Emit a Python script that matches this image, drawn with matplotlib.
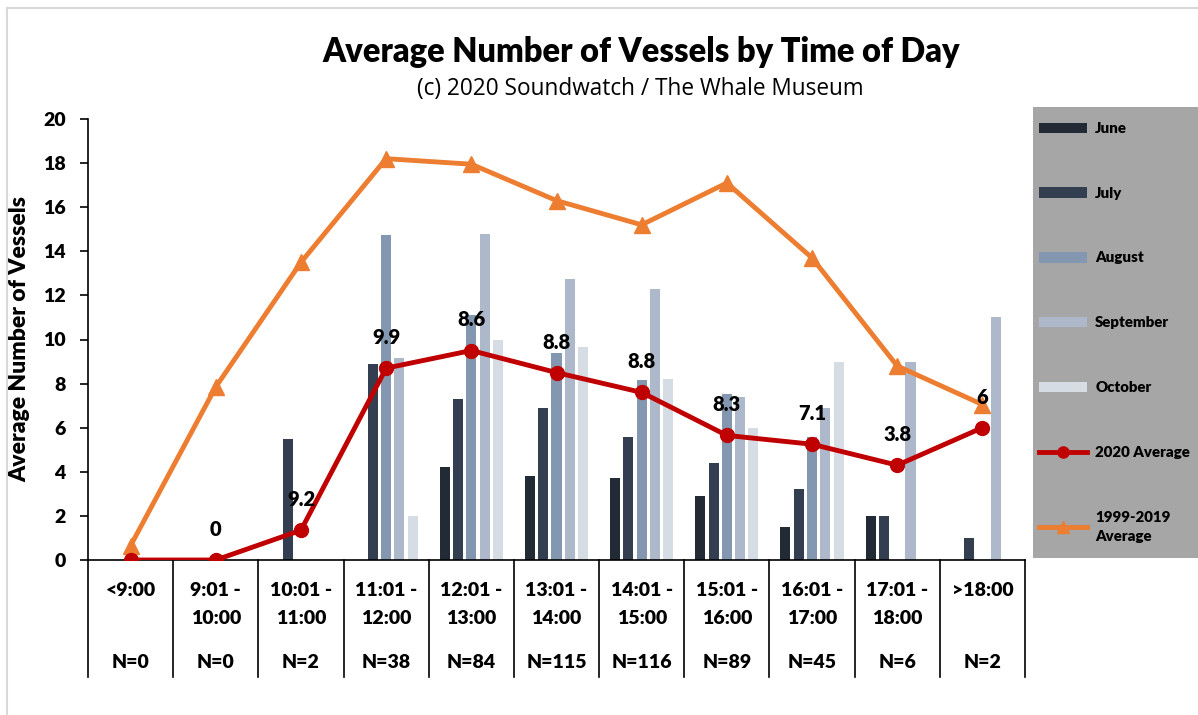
import matplotlib.pyplot as plt
import numpy as np
from matplotlib.lines import Line2D
from matplotlib.patches import Patch, Rectangle

plt.rcParams['font.family'] = ['Lato', 'DejaVu Sans']
BOLD = 'heavy'

# Data
times = ['<9:00', '9:01 -\n10:00', '10:01 -\n11:00', '11:01 -\n12:00', '12:01 -\n13:00',
         '13:01 -\n14:00', '14:01 -\n15:00', '15:01 -\n16:00', '16:01 -\n17:00',
         '17:01 -\n18:00', '>18:00']
n_labels = ['N=0', 'N=0', 'N=2', 'N=38', 'N=84', 'N=115', 'N=116', 'N=89', 'N=45', 'N=6', 'N=2']

june = [0, 0, 0, 0, 4.2, 3.8, 3.7, 2.9, 1.5, 2.0, 0]
july = [0, 0, 5.5, 8.9, 7.3, 6.9, 5.6, 4.4, 3.2, 2.0, 1.0]
august = [0, 0, 0, 14.75, 11.1, 9.4, 8.15, 7.55, 5.6, 0, 0]
september = [0, 0, 0, 9.15, 14.8, 12.75, 12.3, 7.4, 6.9, 9.0, 11.0]
october = [0, 0, 0, 2.0, 10.0, 9.65, 8.2, 6.0, 9.0, 0, 0]

avg_2020 = [0, 0, 1.35, 8.7, 9.5, 8.5, 7.6, 5.65, 5.25, 4.3, 6.0]
avg_2020_labels = ['', '0', '9.2', '9.9', '8.6', '8.8', '8.8', '8.3', '7.1', '3.8', '6']
avg_1999_2019 = [0.65, 7.85, 13.5, 18.2, 17.95, 16.3, 15.2, 17.1, 13.7, 8.8, 7.05]

months = ['June', 'July', 'August', 'September', 'October']
month_vals = [june, july, august, september, october]
month_colors = ['#222a35', '#333f50', '#8497b0', '#adb9ca', '#d6dce4']

fig = plt.figure(figsize=(11.98, 7.15), dpi=100)
W, H = 1198, 715
ax = fig.add_axes([88 / W, 1 - 560 / H, (1025 - 88) / W, (560 - 119) / H])

x = np.arange(len(times))
step = 0.156
for i, (vals, col) in enumerate(zip(month_vals, month_colors)):
    ax.bar(x + (i - 2) * step, vals, width=0.118, color=col, zorder=2)

ax.plot(x, avg_1999_2019, color='#ed7d31', lw=3.5, marker='^', ms=11, zorder=3)
ax.plot(x, avg_2020, color='#c00000', lw=3.5, marker='o', ms=10, zorder=4)

for xi, yi, lab in zip(x, avg_2020, avg_2020_labels):
    if lab:
        ax.annotate(lab, (xi, yi), xytext=(0, 22), textcoords='offset points',
                    ha='center', va='center', fontsize=14.5, fontweight=BOLD, zorder=5)

ax.set_xlim(-0.5, len(times) - 0.5)
ax.set_ylim(0, 20)
ax.set_yticks(range(0, 21, 2))
ax.tick_params(axis='y', labelsize=14, length=6, width=1.2, pad=10)
for t in ax.get_yticklabels():
    t.set_fontweight(BOLD)
ax.set_xticks([])
ax.spines['top'].set_visible(False)
ax.spines['right'].set_visible(False)
ax.spines['left'].set_linewidth(1.2)
ax.spines['bottom'].set_linewidth(1.2)
ax.set_ylabel('Average Number of Vessels', fontsize=16.5, fontweight=BOLD)
ax.yaxis.set_label_coords(-(88 - 30) / (1025 - 88), 0.5)

# category table under the axis
trans = ax.get_xaxis_transform()
table_bottom = -(677 - 560) / (560 - 119)
for k in range(len(times) + 1):
    ax.plot([k - 0.5, k - 0.5], [0, table_bottom], color='black', lw=1.2,
            transform=trans, clip_on=False)
row_y = [-(590 - 560) / 441, -(618 - 560) / 441]
for xi, lab, nl in zip(x, times, n_labels):
    for j, part in enumerate(lab.split('\n')):
        ax.text(xi, row_y[j], part, transform=trans, ha='center', va='center',
                fontsize=14, fontweight=BOLD)
    ax.text(xi, -(662 - 560) / 441, nl, transform=trans, ha='center', va='center',
            fontsize=14, fontweight=BOLD)

fig.text(641 / W, 1 - 52 / H, 'Average Number of Vessels by Time of Day',
         ha='center', va='center', fontsize=23.5, fontweight=BOLD)
fig.text(640 / W, 1 - 89 / H, '(c) 2020 Soundwatch / The Whale Museum',
         ha='center', va='center', fontsize=16.3, family='Open Sans')

# legend panel
fig.patches.append(Rectangle((1033 / W, 1 - 558 / H), (W - 1033) / W, (558 - 107) / H,
                             transform=fig.transFigure, facecolor='#a6a6a6',
                             edgecolor='none', zorder=0))
handles = [Patch(facecolor=c) for c in month_colors]
handles.append(Line2D([], [], color='#c00000', lw=3.5, marker='o', ms=8))
handles.append(Line2D([], [], color='#ed7d31', lw=3.5, marker='^', ms=8))
labels = months + ['2020 Average', '1999-2019\nAverage']
leg = fig.legend(handles, labels, loc='upper left', bbox_to_anchor=(1033 / W, 1 - 116 / H),
                 frameon=False, prop={'weight': BOLD, 'size': 10.8}, labelspacing=3.45,
                 handlelength=3.2, handleheight=0.7, handletextpad=0.55, borderpad=0.2,
                 borderaxespad=0.2)
leg.get_texts()[-1].set_linespacing(1.6)

# chart area border
fig.add_artist(Line2D([7 / W, 7 / W], [0, 1 - 8 / H], color='#d9d9d9', lw=1.5,
                      transform=fig.transFigure))
fig.add_artist(Line2D([7 / W, 1], [1 - 8 / H, 1 - 8 / H], color='#d9d9d9', lw=1.5,
                      transform=fig.transFigure))

plt.savefig('out.png', dpi=100)
